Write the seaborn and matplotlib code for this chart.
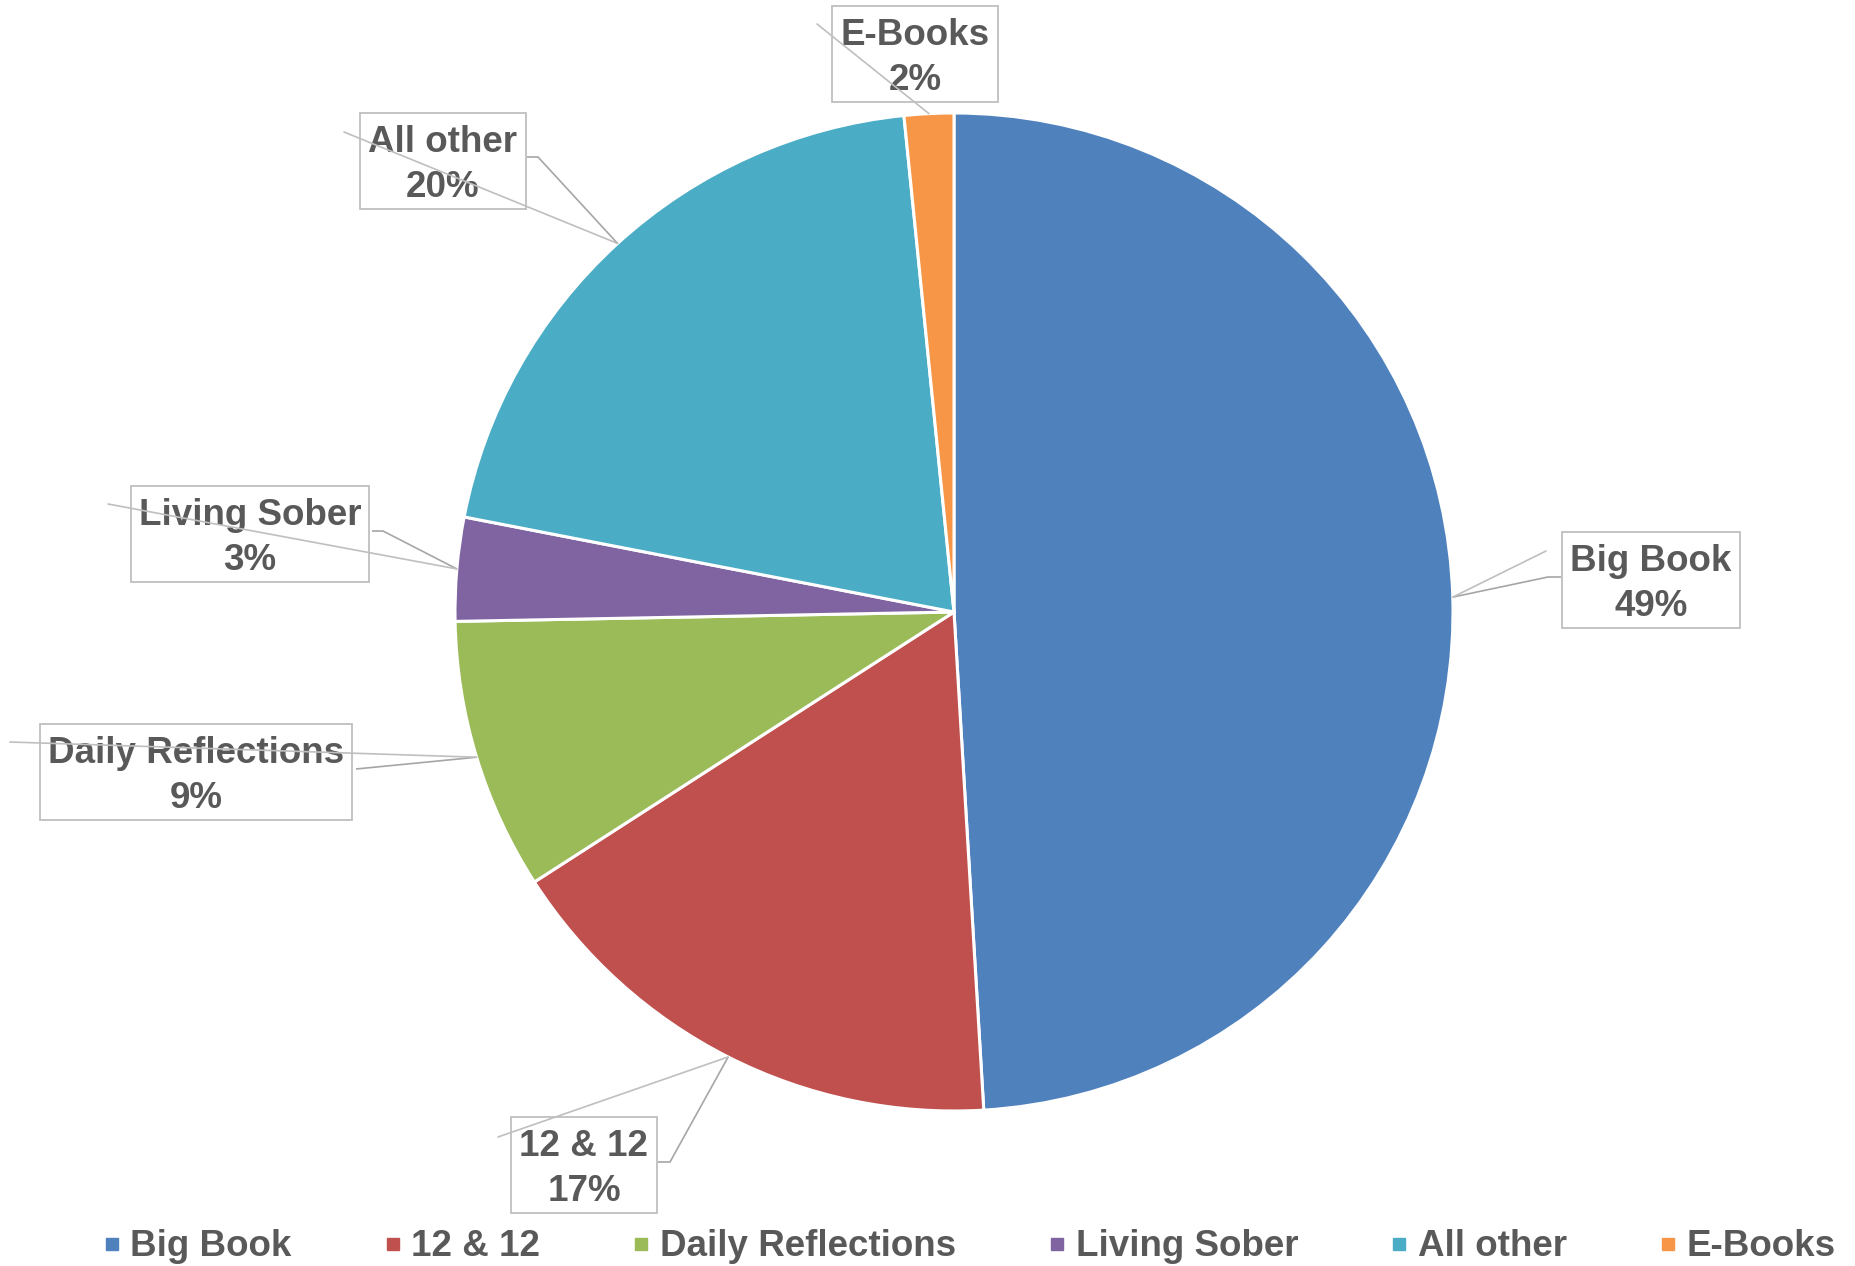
import numpy as np
import matplotlib
matplotlib.use("Agg")
import matplotlib.pyplot as plt
from matplotlib.lines import Line2D
from matplotlib.patches import Rectangle
import seaborn as sns

# ---- data ----
categories = ["Big Book", "12 & 12", "Daily Reflections", "Living Sober", "All other", "E-Books"]
values = [49.05, 16.85, 8.8, 3.35, 20.35, 1.6]
colors = ["#4F81BD", "#C0504D", "#9BBB59", "#8064A2", "#4BACC6", "#F79646"]

sns.set_theme(style="white")
plt.rcParams['font.family'] = ['Liberation Sans', 'DejaVu Sans']

W, H = 1856, 1266
fig = plt.figure(figsize=(W / 100, H / 100), dpi=100)
ax = fig.add_axes([0, 0, 1, 1])
ax.set_xlim(0, W)
ax.set_ylim(0, H)
ax.set_aspect('equal')
ax.axis('off')

cx, cy, R = 954, H - 612, 499
ax.pie(values, colors=colors, startangle=90, counterclock=False,
       center=(cx, cy), radius=R, frame=True,
       wedgeprops=dict(edgecolor='white', linewidth=2.2))
ax.set_xlim(0, W)
ax.set_ylim(0, H)
ax.axis('off')

# ---- label layout (pixel coords, y from top) ----
box_center = {"Big Book": (1651, 580), "12 & 12": (584, 1165), "Daily Reflections": (196, 772),
              "Living Sober": (250, 534), "All other": (443, 161), "E-Books": (915, 54)}
elbow = {"Big Book": [(1548, 577), (1561, 577)], "12 & 12": [(670, 1162), (658, 1162)],
         "Daily Reflections": [(356, 769)], "Living Sober": [(383, 531), (372, 531)],
         "All other": [(538, 157), (527, 157)], "E-Books": []}
stray = {"Big Book": (1546, 551), "12 & 12": (498, 1137), "Daily Reflections": (10, 742),
         "Living Sober": (108, 504), "All other": (344, 132), "E-Books": (817, 24)}

FS = 26.5
PAD = 0.22 * FS * 100 / 72   # px
total = sum(values)
cum = 0.0
txtcol = '#595959'
texts = []
for cat, v in zip(categories, values):
    mid = cum + v / 2
    cum += v
    ang = np.deg2rad(90 - 360 * mid / total)
    px, py = cx + R * np.cos(ang), cy + R * np.sin(ang)
    pts = [(px, py)] + [(x, H - y) for x, y in elbow[cat]]
    if len(pts) > 1:
        ax.plot([p[0] for p in pts], [p[1] for p in pts], color='#A6A6A6', lw=1.2, zorder=3,
                solid_capstyle='butt')
    sx, sy = stray[cat]
    ax.plot([px, sx], [py, H - sy], color='#BFBFBF', lw=1.2, zorder=6)
    bx, by = box_center[cat]
    lab = f"{cat}\n{round(v):.0f}%"
    t = ax.text(bx, H - by - 4, lab, ha='center', va='center', fontsize=FS, fontweight='bold',
                color=txtcol, linespacing=1.37, zorder=5)
    texts.append(t)

fig.canvas.draw()
renderer = fig.canvas.get_renderer()
inv = ax.transData.inverted()
for t in texts:
    ext = t.get_window_extent(renderer)
    (x0, y0), (x1, y1) = inv.transform([(ext.x0, ext.y0), (ext.x1, ext.y1)])
    ax.add_patch(Rectangle((x0 - PAD, y0 - PAD + 4), (x1 - x0) + 2 * PAD, (y1 - y0) + 2 * PAD,
                           fc='white', ec='#BFBFBF', lw=1.3, zorder=4))

handles = [Line2D([0], [0], marker='s', linestyle='none', markersize=8.5,
                  markerfacecolor=c, markeredgecolor=c) for c in colors]
leg = ax.legend(handles, categories, loc='center', bbox_to_anchor=(969 / W, 1 - 1247 / H),
                bbox_transform=fig.transFigure, ncol=6, frameon=False,
                prop=dict(size=FS, weight='bold'), handlelength=0.5, handletextpad=0.25,
                columnspacing=2.5, borderaxespad=0)
for t in leg.get_texts():
    t.set_color(txtcol)

fig.savefig("out.png", dpi=100)
